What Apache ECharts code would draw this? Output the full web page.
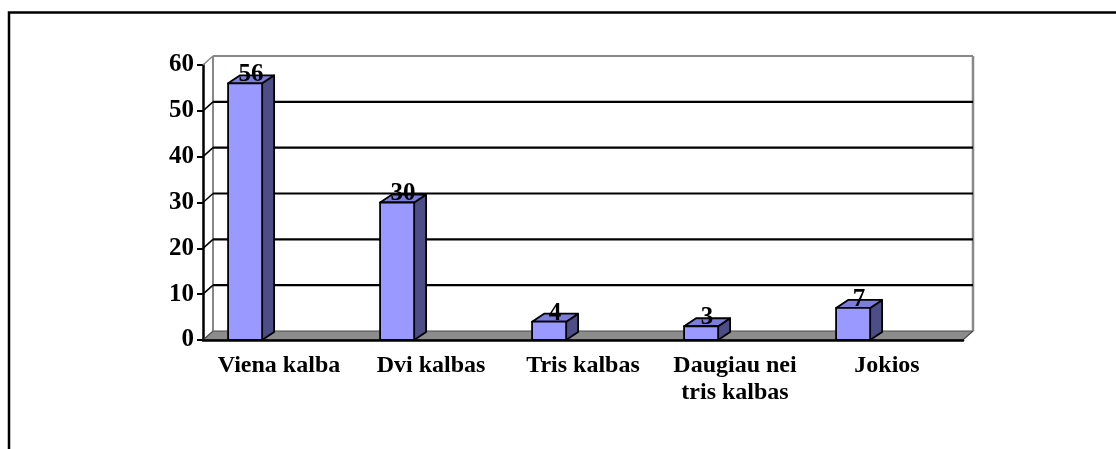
<!DOCTYPE html>
<html>
<head>
<meta charset="utf-8">
<script src="https://cdn.jsdelivr.net/npm/echarts@6/dist/echarts.min.js"></script>
<style>
  html, body { margin: 0; padding: 0; background: #fff; }
  #chart { width: 1116px; height: 449px; }
</style>
</head>
<body>
<div id="chart"></div>
<script>
const categories = ['Viena kalba', 'Dvi kalbas', 'Tris kalbas', 'Daugiau nei\ntris kalbas', 'Jokios']
const values = [56, 30, 4, 3, 7]
const yTicks = [0, 10, 20, 30, 40, 50, 60]

const font = "'Liberation Serif', 'Times New Roman', serif"
// depth of back wall and of the columns
const WX = 10, WY = -9
const BX = 12, BY = -8

function renderWall(params, api) {
    let cs = params.coordSys
    let v = api.value(1)
    let y = api.coord([0, v])[1]
    let x0 = cs.x, x1 = cs.x + cs.width
    let children = []
    if (v === 0) {
        let top = api.coord([0, yTicks[yTicks.length - 1]])[1] + WY
        children.push({
            type: 'polygon',
            shape: { points: [[x0, y], [x1, y], [x1 + WX, y + WY], [x0 + WX, y + WY]] },
            style: { fill: '#8c8c8c', stroke: '#4a4a4a', lineWidth: 1.2 },
        })
        children.push({
            type: 'line',
            shape: { x1: x0 + WX, y1: top, x2: x0 + WX, y2: y + WY },
            style: { stroke: '#888', lineWidth: 2 },
        })
        children.push({
            type: 'line',
            shape: { x1: x1 + WX, y1: top, x2: x1 + WX, y2: y + WY },
            style: { stroke: '#888', lineWidth: 2.5 },
        })
    } else {
        let c = v === yTicks[yTicks.length - 1] ? '#888' : '#000'
        children.push({
            type: 'line',
            shape: { x1: x0 + WX, y1: y + WY, x2: x1 + WX, y2: y + WY },
            style: { stroke: c, lineWidth: 2.2 },
        })
        children.push({
            type: 'line',
            shape: { x1: x0, y1: y, x2: x0 + WX, y2: y + WY },
            style: { stroke: c, lineWidth: 1.5 },
        })
    }
    return { type: 'group', children: children }
}

function renderBar(params, api) {
    let idx = api.value(0)
    let v = api.value(1)
    let t = api.coord([idx, v])[1]
    let b = api.coord([idx, 0])[1]
    let band = api.size([1, 0])[0]
    let cx = api.coord([idx, v])[0]
    let left = cx - band / 2 + band * 0.165
    let w = band * 0.224
    let edge = { stroke: '#000', lineWidth: 1.8, lineJoin: 'round' }
    return {
        type: 'group',
        children: [
            {
                type: 'polygon',
                shape: { points: [[left + w, t], [left + w + BX, t + BY], [left + w + BX, b + BY], [left + w, b]] },
                style: Object.assign({ fill: '#4d4d88' }, edge),
            },
            {
                type: 'polygon',
                shape: { points: [[left, t], [left + w, t], [left + w + BX, t + BY], [left + BX, t + BY]] },
                style: Object.assign({ fill: '#7d7ddc' }, edge),
            },
            {
                type: 'rect',
                shape: { x: left, y: t, width: w, height: b - t },
                style: Object.assign({ fill: '#9999ff' }, edge),
            },
            {
                type: 'text',
                x: left + w / 2 + BX / 2,
                y: t + 4,
                style: {
                    text: String(v),
                    fill: '#000',
                    font: 'bold 25px ' + font,
                    align: 'center',
                    verticalAlign: 'bottom',
                },
            },
        ],
    }
}

let chart = echarts.init(document.getElementById('chart'), null, { renderer: 'canvas' })
chart.setOption({
    animation: false,
    backgroundColor: '#fff',
    graphic: [{
        type: 'polyline',
        shape: { points: [[9, 449], [9, 12.5], [1116, 12.5]] },
        style: { stroke: '#000', lineWidth: 2.5, fill: null },
    }],
    grid: { left: 203, right: 153, top: 65, bottom: 109 },
    xAxis: {
        type: 'category',
        data: categories,
        axisLine: { lineStyle: { color: '#000', width: 2.5 } },
        axisTick: { length: 7, lineStyle: { color: '#000', width: 2 } },
        axisLabel: {
            interval: 0,
            margin: 12,
            color: '#000',
            fontFamily: font,
            fontWeight: 'bold',
            fontSize: 24,
            lineHeight: 27,
        },
        z: 5,
    },
    yAxis: {
        type: 'value',
        min: 0,
        max: 60,
        interval: 10,
        axisLine: { show: true, lineStyle: { color: '#000', width: 2.5 } },
        axisTick: { show: true, length: 6, lineStyle: { color: '#000', width: 2 } },
        axisLabel: {
            margin: 9,
            color: '#000',
            fontFamily: font,
            fontWeight: 'bold',
            fontSize: 25,
        },
        splitLine: { show: false },
    },
    series: [
        {
            type: 'custom',
            renderItem: renderWall,
            data: yTicks.map(v => [0, v]),
            z: 1,
            silent: true,
        },
        {
            type: 'custom',
            renderItem: renderBar,
            data: values.map((v, i) => [i, v]),
            z: 3,
        },
    ],
})
</script>
</body>
</html>
